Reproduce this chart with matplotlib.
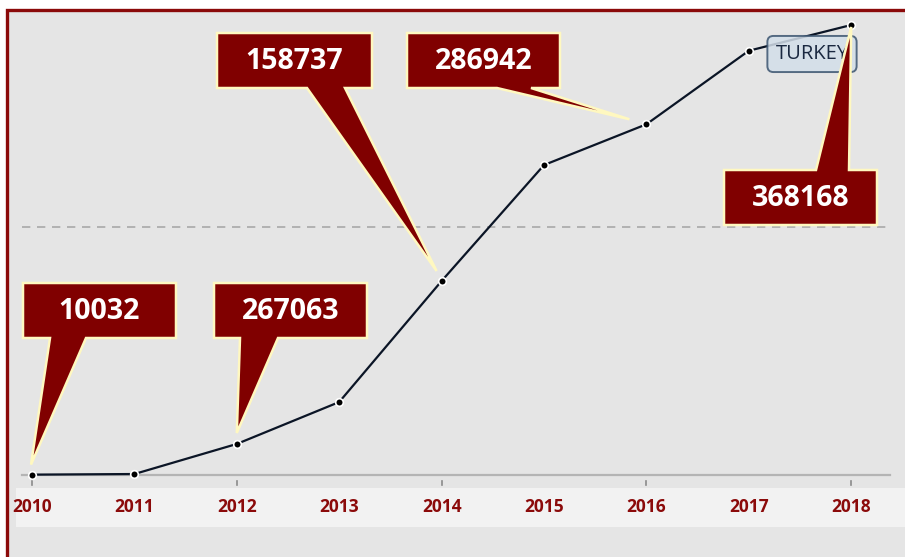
import numpy as np
import matplotlib
matplotlib.use('Agg')
import matplotlib.pyplot as plt
from matplotlib.patches import Rectangle, Polygon
from matplotlib.transforms import blended_transform_factory

# data
years = [2010, 2011, 2012, 2013, 2014, 2015, 2016, 2017, 2018]
values = [300, 800, 25400, 59700, 158737, 253600, 286942, 347100, 368168]
guide_value = 203000
series_name = 'TURKEY'
callout_labels = ['10032', '267063', '158737', '286942', '368168']
callout_years = [2010, 2012, 2014, 2016, 2018]

W, H = 905, 557
dark_red = '#800000'
edge_yellow = '#fff8c0'

fig = plt.figure(figsize=(W/100, H/100), dpi=100)
fig.patch.set_facecolor('white')
ax = fig.add_axes([0, 0, 1, 1])
ax.set_xlim(2009.6875, 2018.5254)
ax.set_ylim(-67090, 388620)
ax.axis('off')

def frac(x, y):
    # pixel (top-left origin) -> axes fraction
    return (x / W, 1 - y / H)

def data_px(x, y):
    dx, dy = ax.transData.transform((x, y))
    return dx, H - dy

# frame + background
x0, y0 = frac(7, 9.5)
ax.add_patch(Rectangle((x0, -0.1), 1.2, y0 + 0.1, transform=ax.transAxes,
                       fc='#e5e5e5', ec='#8b0a0a', lw=2.4, zorder=0))
bx, by = frac(16, 527)
ax.add_patch(Rectangle((bx, by), 1.0, 39/H, transform=ax.transAxes,
                       fc='#f2f2f2', ec='none', zorder=0.5))

# axis line and guide line
ax.axhline(0, xmin=22/W, xmax=890/W, color='#b4b4b4', lw=1.6, zorder=1)
ax.axhline(guide_value, xmin=22/W, xmax=890/W, color='#a8a8a8', lw=1.2,
           ls=(0, (5, 4)), zorder=1)

# tick marks and labels
tb = blended_transform_factory(ax.transData, ax.transAxes)
for yr in years[::2]:
    ax.plot([yr, yr], [1 - 481/H, 1 - 485/H], transform=tb, color='#8a8a8a', lw=1.2, zorder=1)
for yr in years:
    ax.text(yr, 1 - 507/H, str(yr), transform=tb, ha='center', va='center',
            color='#8b0a0a', fontsize=12.5, fontweight='bold', family='Open Sans')

# line
ax.plot(years, values, color='#0b1526', lw=1.6, marker='o', ms=5.5,
        mfc='black', mec='white', mew=1.2, zorder=3)

# legend box
ax.text(*frac(812, 54), series_name, transform=ax.transAxes, ha='center', va='center',
        fontsize=14.5, family='Open Sans', color='#1a2840', zorder=4,
        bbox=dict(boxstyle='round,pad=0.4,rounding_size=0.3', fc='#d3dee9', ec='#3c5570',
                  lw=1.4, alpha=0.85))

# callouts: box (L, T, R, B), tail base (b1, b2), tip offset from point, tail side
boxes = [(23, 283, 176, 338), (214, 283, 367, 338), (217, 33, 372, 88),
         (407, 33, 560, 88), (724, 170, 877, 225)]
tails = [(50, 86), (240, 278), (307, 345), (497, 531), (816, 849)]
tip_off = [(-1, -10), (0, -11), (-5, -10), (-17, -5), (0, 2)]
tail_top = [False, False, False, False, True]

for lab, yr, (L, T, R, B), (b1, b2), (ox, oy), top in zip(
        callout_labels, callout_years, boxes, tails, tip_off, tail_top):
    px, py = data_px(yr, values[years.index(yr)])
    tip = (px + ox, py + oy)
    if top:
        pts = [(L, T), (b1, T), tip, (b2, T), (R, T), (R, B), (L, B)]
    else:
        pts = [(L, T), (R, T), (R, B), (b2, B), tip, (b1, B), (L, B)]
    ax.add_patch(Polygon([frac(*p) for p in pts], closed=True, transform=ax.transAxes,
                         fc=dark_red, ec=edge_yellow, lw=1.8, joinstyle='miter', zorder=5))
    ax.text(*frac((L + R) / 2, (T + B) / 2 + 1), lab, transform=ax.transAxes,
            ha='center', va='center', color='white', fontsize=20.5, fontweight='bold',
            family='Open Sans', zorder=6)

fig.savefig('out.png', dpi=100)
